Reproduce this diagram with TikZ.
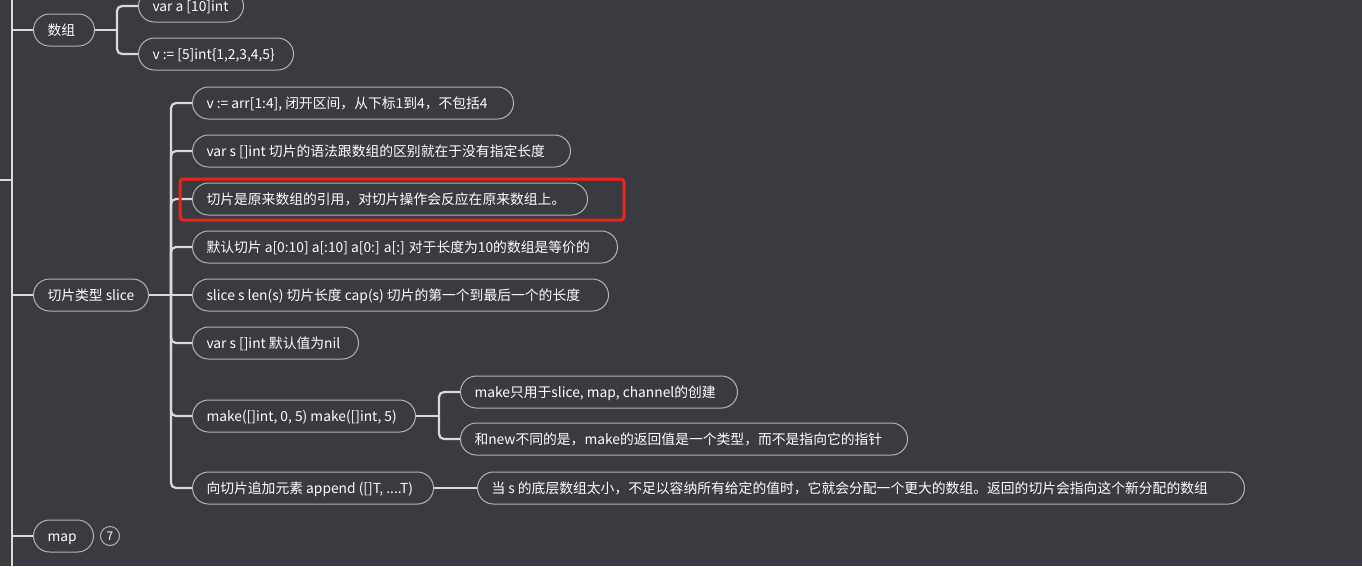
\documentclass[tikz,border=0pt]{standalone}
\usepackage{fontspec}
\setmainfont{Noto Sans CJK SC}
\definecolor{bg}{HTML}{393B40}
\definecolor{lnc}{HTML}{DADADA}
\definecolor{bdc}{HTML}{B4B4B4}
\definecolor{redc}{HTML}{F0201A}
\newcommand\pillbox[2]{\makebox[#1][l]{#2}}
\tikzset{
  pill/.style={draw=bdc, line width=1pt, rounded corners=16pt, minimum height=32pt, inner xsep=14pt, inner ysep=0pt, text=white, font=\fontsize{13.8pt}{16pt}\selectfont, anchor=west, text height=10.5pt, text depth=0pt},
  conn/.style={draw=lnc, line width=2.2pt, rounded corners=5pt},
}
\begin{document}
\begin{tikzpicture}[x=1pt,y=-1pt]
\fill[bg] (0,0) rectangle (1362,566);
\useasboundingbox (0,0) rectangle (1362,566);
% trunk
\coordinate (t0) at (12,0);
\coordinate (t1) at (12,566);
\coordinate (tin) at (0,180);
\draw[conn] (t0) -- (t1);
\draw[conn] (tin) -- (tin -| t0);
% level 1
\node[pill] (arr) at (33,30) {\pillbox{33pt}{数组}};
\node[pill] (sl) at (33,295) {\pillbox{87pt}{切片类型 slice}};
\node[pill] (mp) at (33,536) {\pillbox{32pt}{map}};
\node[draw=bdc, line width=1pt, circle, minimum size=19pt, inner sep=0pt, text=white, font=\fontsize{12pt}{14pt}\selectfont] (cnt) at (110,536) {7};
\foreach \n in {arr,sl,mp} \draw[conn] (\n.west) -- (\n.west -| t0);
% array children
\node[pill] (a1) at (138,6) {\pillbox{77pt}{var a [10]int}};
\node[pill] (a2) at (138,54) {\pillbox{127pt}{v := [5]int\{1,2,3,4,5\}}};
\draw[conn] (arr.east) -- ++(22,0) coordinate (ja);
\draw[conn] (ja) |- (a1.west);
\draw[conn] (ja) |- (a2.west);
% slice children
\node[pill] (s1) at (192,103) {\pillbox{293pt}{v := arr[1:4], 闭开区间，从下标1到4，不包括4}};
\node[pill] (s2) at (192,151) {\pillbox{350pt}{var s []int 切片的语法跟数组的区别就在于没有指定长度}};
\node[pill] (s3) at (192,199) {\pillbox{367pt}{切片是原来数组的引用，对切片操作会反应在原来数组上。}};
\node[pill] (s4) at (192,247) {\pillbox{397pt}{默认切片 a[0:10] a[:10] a[0:] a[:] 对于长度为10的数组是等价的}};
\node[pill] (s5) at (192,295) {\pillbox{388pt}{slice s len(s) 切片长度 cap(s) 切片的第一个到最后一个的长度}};
\node[pill] (s6) at (192,343) {\pillbox{138pt}{var s []int 默认值为nil}};
\node[pill] (s7) at (192,416) {\pillbox{195pt}{make([]int, 0, 5) make([]int, 5)}};
\node[pill] (s8) at (192,488) {\pillbox{213pt}{向切片追加元素 append ([]T, ....T)}};
\draw[conn] (sl.east) -- (s5.west);
\coordinate (js) at (171,295);
\foreach \n in {s1,s2,s3,s4,s6,s7,s8} \draw[conn] (js) |- (\n.west);
% red highlight
\draw[redc, line width=3pt, rounded corners=3pt] (180,179) rectangle (624,220);
% make children
\node[pill] (m1) at (460,392) {\pillbox{249pt}{make只用于slice, map, channel的创建}};
\node[pill] (m2) at (460,439) {\pillbox{419pt}{和new不同的是，make的返回值是一个类型，而不是指向它的指针}};
\draw[conn] (s7.east) -- ++(23,0) coordinate (jm);
\draw[conn] (jm) |- (m1.west);
\draw[conn] (jm) |- (m2.west);
% append child
\node[pill] (p1) at (477,488) {\pillbox{739pt}{当 s 的底层数组太小，不足以容纳所有给定的值时，它就会分配一个更大的数组。返回的切片会指向这个新分配的数组}};
\draw[conn] (s8.east) -- (p1.west);
\end{tikzpicture}
\end{document}
